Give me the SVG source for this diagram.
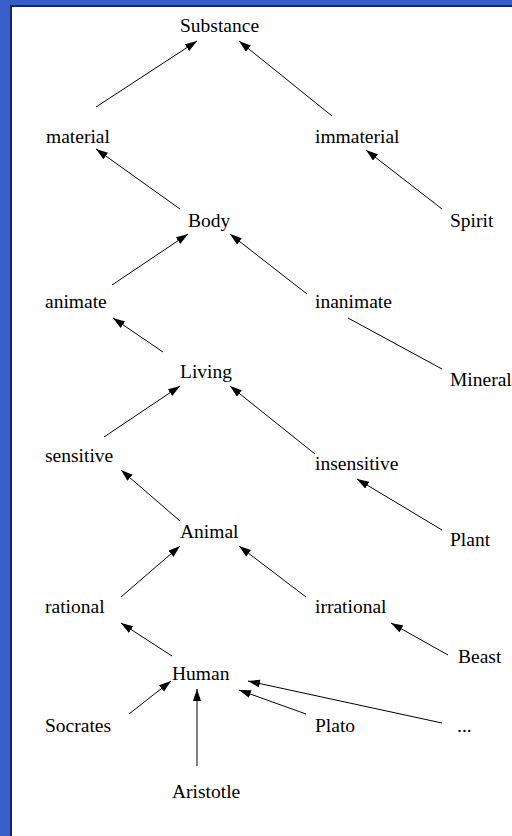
<svg xmlns="http://www.w3.org/2000/svg" width="512" height="836" viewBox="0 0 512 836">
<defs>
<style>
text{font-family:"Liberation Serif","Times New Roman",serif;font-size:19.5px;fill:#000}
.e{stroke:#000;stroke-width:1;fill:none}
.a{marker-end:url(#ah)}
</style>
<marker id="ah" markerUnits="userSpaceOnUse" markerWidth="13" markerHeight="9" refX="12" refY="4" orient="auto" viewBox="0 0 13 9">
<path d="M0,0 L12,4 L0,8 z" fill="#000"/>
</marker>
</defs>
<rect x="0" y="0" width="512" height="836" fill="#3a5ec8"/>
<rect x="10" y="5" width="502" height="831" fill="#1e2a4a"/>
<rect x="12" y="7" width="500" height="829" fill="#fff"/>
<g id="connectors">
<line class="e a" x1="96" y1="107" x2="197" y2="41"/>
<line class="e a" x1="332" y1="116" x2="239" y2="41"/>
<line class="e a" x1="180" y1="209" x2="96" y2="149"/>
<line class="e a" x1="442" y1="209" x2="366" y2="150"/>
<line class="e a" x1="112" y1="285" x2="188" y2="234"/>
<line class="e a" x1="307" y1="294" x2="230" y2="234"/>
<line class="e a" x1="163" y1="352" x2="113" y2="318"/>
<line class="e" x1="442" y1="369" x2="348" y2="318"/>
<line class="e a" x1="104" y1="437" x2="180" y2="386"/>
<line class="e a" x1="315" y1="454" x2="230" y2="386"/>
<line class="e a" x1="180" y1="521" x2="121" y2="470"/>
<line class="e a" x1="442" y1="530" x2="357" y2="479"/>
<line class="e a" x1="121" y1="597" x2="180" y2="546"/>
<line class="e a" x1="306" y1="597" x2="239" y2="546"/>
<line class="e a" x1="172" y1="656" x2="121" y2="623"/>
<line class="e a" x1="448" y1="655" x2="391" y2="623"/>
<line class="e a" x1="129" y1="714" x2="171" y2="681"/>
<line class="e a" x1="197" y1="766" x2="197" y2="689"/>
<line class="e a" x1="306" y1="714" x2="239" y2="690"/>
<line class="e a" x1="442" y1="723" x2="248" y2="681"/>
</g>
<g id="substance"><text x="180" y="32">Substance</text></g>
<g id="material"><text x="46" y="143">material</text></g>
<g id="immaterial"><text x="315" y="143">immaterial</text></g>
<g id="body"><text x="188" y="227">Body</text></g>
<g id="spirit"><text x="450" y="227">Spirit</text></g>
<g id="animate"><text x="45" y="308">animate</text></g>
<g id="inanimate"><text x="315" y="308">inanimate</text></g>
<g id="living"><text x="180" y="378">Living</text></g>
<g id="mineral"><text x="450" y="386">Mineral</text></g>
<g id="sensitive"><text x="45" y="462">sensitive</text></g>
<g id="insensitive"><text x="315" y="470">insensitive</text></g>
<g id="animal"><text x="180" y="538">Animal</text></g>
<g id="plant"><text x="450" y="546">Plant</text></g>
<g id="rational"><text x="45" y="613">rational</text></g>
<g id="irrational"><text x="315" y="613">irrational</text></g>
<g id="beast"><text x="458" y="663">Beast</text></g>
<g id="human"><text x="172" y="680">Human</text></g>
<g id="socrates"><text x="45" y="732">Socrates</text></g>
<g id="plato"><text x="315" y="732">Plato</text></g>
<g id="ellipsis"><text x="457" y="732">...</text></g>
<g id="aristotle"><text x="172" y="798">Aristotle</text></g>
</svg>
